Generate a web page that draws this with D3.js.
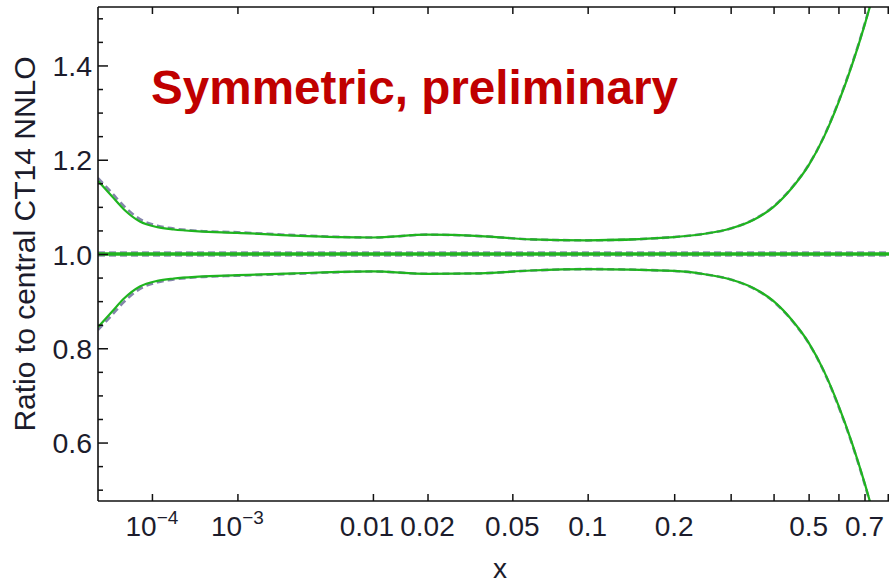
<!DOCTYPE html>
<html>
<head>
<meta charset="utf-8">
<script src="https://cdn.jsdelivr.net/npm/d3@7"></script>
<style>
  html, body { margin: 0; padding: 0; background: #fff; }
  svg { display: block; font-family: "Liberation Sans", Arial, sans-serif; }
</style>
</head>
<body>
<svg id="chart" width="889" height="585"></svg>
<script>
// Momentum fraction x at which the error-band edges are tabulated
const xGrid = [1e-5, 2e-5, 3.5e-5, 6.5e-5, 1.2e-4, 2e-4, 4e-4, 1e-3, 3e-3, 0.01, 0.02, 0.036, 0.06, 0.1,
               0.2, 0.25, 0.3, 0.35, 0.4, 0.45, 0.5, 0.55, 0.6, 0.65, 0.7, 0.75];

// Upper / lower edge of the symmetric error band (ratio to central CT14 NNLO)
const upperBand = [1.155, 1.123, 1.094, 1.069, 1.057, 1.052, 1.048, 1.045, 1.039, 1.035, 1.041, 1.038, 1.031, 1.029,
                   1.036, 1.043, 1.054, 1.072, 1.100, 1.140, 1.188, 1.249, 1.321, 1.400, 1.485, 1.575];
const lowerBand = [0.845, 0.877, 0.906, 0.931, 0.943, 0.948, 0.952, 0.955, 0.959, 0.963, 0.958, 0.959, 0.965, 0.968,
                   0.964, 0.957, 0.946, 0.928, 0.900, 0.860, 0.812, 0.751, 0.679, 0.600, 0.515, 0.425];

// Comparison set (dashed), nearly coincident with the band above
const upperAlt = [1.161, 1.130, 1.101, 1.074, 1.060, 1.054, 1.049, 1.046, 1.040, 1.035, 1.041, 1.038, 1.031, 1.029,
                  1.036, 1.043, 1.054, 1.073, 1.101, 1.141, 1.189, 1.250, 1.323, 1.402, 1.487, 1.577];
const lowerAlt = [0.839, 0.870, 0.899, 0.926, 0.940, 0.946, 0.951, 0.954, 0.958, 0.963, 0.958, 0.959, 0.965, 0.968,
                  0.964, 0.957, 0.946, 0.927, 0.899, 0.859, 0.811, 0.750, 0.677, 0.598, 0.513, 0.423];
const centralValue = 1.0;

// Axis ticks
const xTickLabeled = [1e-4, 1e-3, 0.01, 0.02, 0.05, 0.1, 0.2, 0.5, 0.7];
const xTickPlain = [0.3, 0.4, 0.6, 0.8, 0.9, 1.0];
const yMajor = [0.6, 0.8, 1.0, 1.2, 1.4];
const yMinor = [0.5, 0.55, 0.65, 0.7, 0.75, 0.85, 0.9, 0.95, 1.05, 1.1, 1.15, 1.25, 1.3, 1.35, 1.45, 1.5];

const titleText = "Symmetric, preliminary";
const yTitle = "Ratio to central CT14 NNLO";
const xTitle = "x";

const svg = d3.select("#chart");
const plotL = 98, plotR = 928, plotT = 7, plotB = 501;

// x axis uses an x^0.2 scale: logarithmic-looking at small x, stretched at large x
const x = d3.scalePow().exponent(0.2).domain([1e-5, 1]).range([plotL, plotR]);
const y = d3.scaleLinear().domain([0.476, 1.524]).range([plotB, plotT]);

svg.append("defs").append("clipPath").attr("id", "plotClip")
  .append("rect").attr("x", plotL).attr("y", plotT).attr("width", plotR - plotL).attr("height", plotB - plotT);

const plot = svg.append("g").attr("clip-path", "url(#plotClip)");

const line = d3.line().x(d => x(d[0])).y(d => y(d[1])).curve(d3.curveMonotoneX);
const zipped = vals => xGrid.map((xv, i) => [xv, vals[i]]);

const green = "#1fb41f";
const dashCol = "#6e6e9c";

// central line
const central = [[1e-5, centralValue], [1, centralValue]];
plot.append("path").attr("d", line(central)).attr("fill", "none")
  .attr("stroke", dashCol).attr("stroke-width", 5.5).attr("stroke-dasharray", "7,4").attr("opacity", 0.75);
plot.append("path").attr("d", line(central)).attr("fill", "none")
  .attr("stroke", green).attr("stroke-width", 3.6);

// dashed comparison curves
[upperAlt, lowerAlt].forEach(v => {
  plot.append("path").attr("d", line(zipped(v))).attr("fill", "none")
    .attr("stroke", dashCol).attr("stroke-width", 2.6).attr("stroke-dasharray", "7,4").attr("opacity", 0.85);
});
// solid band edges
[upperBand, lowerBand].forEach(v => {
  plot.append("path").attr("d", line(zipped(v))).attr("fill", "none")
    .attr("stroke", green).attr("stroke-width", 2.2);
});

// frame
const frame = svg.append("g").attr("stroke", "#111").attr("stroke-width", 1.6).attr("fill", "none");
frame.append("line").attr("x1", plotL).attr("x2", plotL).attr("y1", plotT).attr("y2", plotB);
frame.append("line").attr("x1", plotL).attr("x2", plotR).attr("y1", plotB).attr("y2", plotB);
frame.append("line").attr("x1", plotL).attr("x2", plotR).attr("y1", plotT).attr("y2", plotT);

// x ticks (inward, bottom and top)
const allX = xTickLabeled.concat(xTickPlain);
const bottomAxis = d3.axisBottom(x).tickValues(allX).tickSize(-7).tickFormat("");
const topAxis = d3.axisTop(x).tickValues(allX).tickSize(-7).tickFormat("");
[svg.append("g").attr("transform", `translate(0,${plotB})`).call(bottomAxis),
 svg.append("g").attr("transform", `translate(0,${plotT})`).call(topAxis)].forEach(g => {
  g.select(".domain").remove();
  g.selectAll(".tick line").attr("stroke", "#111").attr("stroke-width", 1.5);
});

// y ticks (inward): major and minor
const yMajAxis = d3.axisLeft(y).tickValues(yMajor).tickSize(-10).tickPadding(6).tickFormat(d3.format(".1f"));
const yMinAxis = d3.axisLeft(y).tickValues(yMinor).tickSize(-5).tickFormat("");
const gy = svg.append("g").attr("transform", `translate(${plotL},0)`).call(yMajAxis);
const gy2 = svg.append("g").attr("transform", `translate(${plotL},0)`).call(yMinAxis);
[gy, gy2].forEach(g => {
  g.select(".domain").remove();
  g.selectAll(".tick line").attr("stroke", "#111").attr("stroke-width", 1.5);
});
gy.selectAll(".tick text").attr("font-size", 28.5).attr("fill", "#1c1c2c")
  .attr("font-family", "Liberation Sans, Arial, sans-serif").attr("dy", "0.36em");

// x tick labels, powers of ten with superscripts; the 0.01 label sits a little left to clear 0.02
const xl = svg.append("g").attr("font-size", 28).attr("fill", "#1c1c2c").attr("text-anchor", "middle");
xTickLabeled.forEach(v => {
  const t = xl.append("text").attr("x", x(v)).attr("y", 536).attr("dx", v === 0.01 ? -6 : 0);
  if (v < 0.005) {
    const p = Math.round(Math.log10(v));
    t.append("tspan").text("10");
    t.append("tspan").attr("font-size", 19).attr("dy", -12).text("\u2212" + Math.abs(p));
  } else {
    t.text(String(v));
  }
});

// axis titles
svg.append("text").attr("x", 500).attr("y", 578).attr("text-anchor", "middle")
  .attr("font-size", 28).attr("fill", "#1c1c2c").text(xTitle);
svg.append("text").attr("transform", `translate(35,244) rotate(-90)`)
  .attr("text-anchor", "middle").attr("font-size", 30).attr("fill", "#1c1c2c").text(yTitle);

// in-plot title
svg.append("text").attr("x", 151).attr("y", 104).attr("font-size", 48).attr("font-weight", "bold")
  .attr("fill", "#c00000").attr("textLength", 527).attr("lengthAdjust", "spacingAndGlyphs").text(titleText);
</script>
</body>
</html>
